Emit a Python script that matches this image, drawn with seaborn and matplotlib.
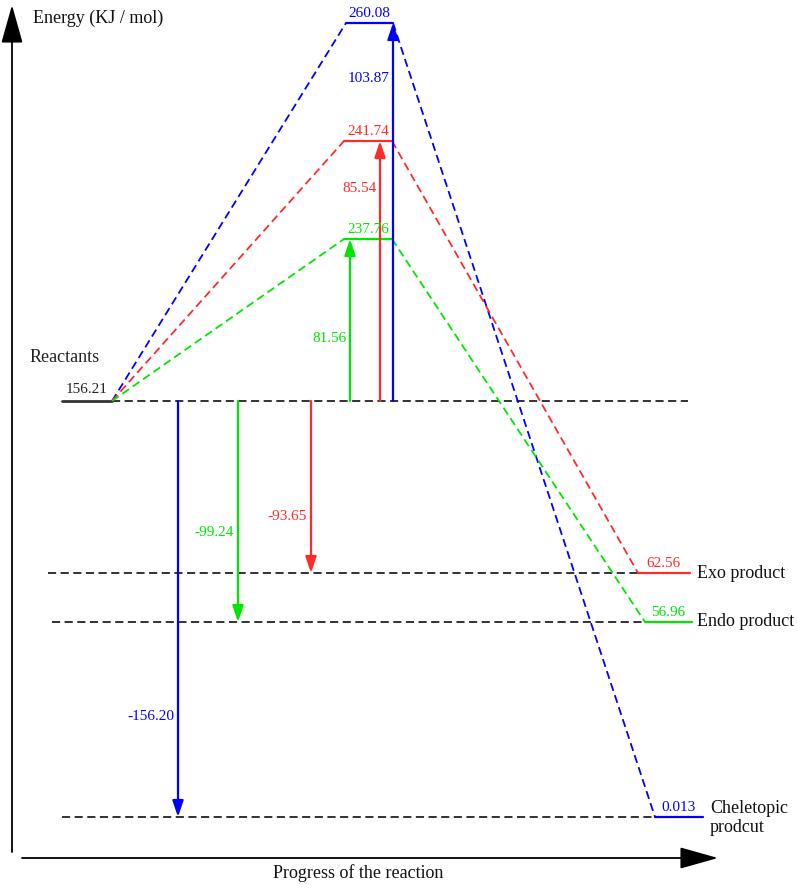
import matplotlib.pyplot as plt
import seaborn as sns
import pandas as pd

# energy levels (KJ / mol) as printed on the diagram
states = ['Reactants', 'TS cheletopic', 'TS exo', 'TS endo',
          'Exo product', 'Endo product', 'Cheletopic product']
energy = ['156.21', '260.08', '241.74', '237.76', '62.56', '56.96', '0.013']
# the diagram is schematic, not to scale: drawn height of each level
level_h = [488, 866, 748, 650, 316, 267, 72]

# three pathways: cheletopic (blue), exo (red), endo (green)
paths = ['cheletopic', 'exo', 'endo']
ts_idx = [1, 2, 3]
prod_idx = [6, 4, 5]
barrier = ['103.87', '85.54', '81.56']
reaction = ['-156.20', '-93.65', '-99.24']
prod_names = ['Cheletopic\nprodcut', 'Exo product', 'Endo product']

# layout along the reaction coordinate
react_x = (62, 112)
ts_x = [(346, 393), (344, 392), (344, 392)]
prod_x = [(655, 703), (638, 690), (645, 692)]
ref_start = [62, 48, 52]
ref_end = 688
up_x = [393, 380, 350]
down_x = [178, 311, 238]
barrier_lab_h = [811, 700, 551]
reaction_lab_h = [173, 373, 357]
name_x = [710, 697, 697]
name_dy = [-1, 0, 0]
colors = ['#0000ff', '#ff2a2a', '#00e600']

sns.set_theme(style='white')
plt.rcParams['font.family'] = ['Liberation Serif', 'DejaVu Serif']

fig = plt.figure(figsize=(7.97, 8.89), dpi=100)
ax = fig.add_axes([0, 0, 1, 1])
ax.set_xlim(0, 797)
ax.set_ylim(0, 889)
ax.axis('off')

dash = (0, (4.5, 2.5))
num_fs = 11
lab_fs = 13
r_h = level_h[0]

# reactant level and its dashed reference line
sns.lineplot(x=list(react_x), y=[r_h, r_h], color='#333333', lw=2, ax=ax)
sns.lineplot(x=[react_x[1], ref_end], y=[r_h, r_h], color='#222222', lw=1.3,
             linestyle=dash, ax=ax)
ax.text(sum(react_x) / 2, r_h + 5, energy[0], ha='center', va='bottom',
        fontsize=num_fs, color='#222222')
ax.text(30, 531, 'Reactants', ha='left', va='center', fontsize=lab_fs, color='#222222')

for i, p in enumerate(paths):
    c = colors[i]
    th = level_h[ts_idx[i]]
    ph = level_h[prod_idx[i]]
    tx0, tx1 = ts_x[i]
    px0, px1 = prod_x[i]
    # product reference line
    sns.lineplot(x=[ref_start[i], px0], y=[ph, ph], color='#222222', lw=1.3,
                 linestyle=dash, ax=ax)
    # dashed connectors
    df = pd.DataFrame({'x': [react_x[1], tx0], 'y': [r_h, th]})
    sns.lineplot(data=df, x='x', y='y', color=c, lw=1.3, linestyle=dash, ax=ax,
                 sort=False, estimator=None)
    df = pd.DataFrame({'x': [tx1, px0], 'y': [th, ph]})
    sns.lineplot(data=df, x='x', y='y', color=c, lw=1.3, linestyle=dash, ax=ax,
                 sort=False, estimator=None)
    # TS and product levels
    sns.lineplot(x=[tx0, tx1], y=[th, th], color=c, lw=1.6, ax=ax)
    sns.lineplot(x=[px0, px1], y=[ph, ph], color=c, lw=1.6, ax=ax)
    ax.text((tx0 + tx1) / 2, th + 3, energy[ts_idx[i]], ha='center', va='bottom',
            fontsize=num_fs, color=c)
    ax.text((px0 + px1) / 2, ph + 3, energy[prod_idx[i]], ha='center', va='bottom',
            fontsize=num_fs, color=c)
    ax.text(name_x[i], ph + name_dy[i], prod_names[i], ha='left', va='center',
            fontsize=lab_fs, color='#111111', linespacing=1.15)
    # barrier arrow (up) and reaction energy arrow (down)
    arrow = dict(arrowstyle='-|>,head_length=0.65,head_width=0.22', color=c,
                 lw=1.6, shrinkA=0, shrinkB=0, mutation_scale=15)
    ax.annotate('', xy=(up_x[i], th), xytext=(up_x[i], r_h), arrowprops=arrow)
    ax.text(up_x[i] - 3, barrier_lab_h[i], barrier[i], ha='right', va='center',
            fontsize=num_fs, color=c)
    ax.annotate('', xy=(down_x[i], ph), xytext=(down_x[i], r_h), arrowprops=arrow)
    ax.text(down_x[i] - 4, reaction_lab_h[i], reaction[i], ha='right', va='center',
            fontsize=num_fs, color=c)

# axes arrows
axis_arrow = dict(arrowstyle='-|>,head_length=1.6,head_width=0.45', color='black',
                  lw=1.3, shrinkA=0, shrinkB=0, mutation_scale=15)
ax.annotate('', xy=(12, 884), xytext=(12, 37), arrowprops=axis_arrow)
ax.annotate('', xy=(718, 31), xytext=(22, 31), arrowprops=axis_arrow)
ax.text(33, 871, 'Energy (KJ / mol)', ha='left', va='center', fontsize=lab_fs,
        color='#111111')
ax.text(358, 16, 'Progress of the reaction', ha='center', va='center', fontsize=lab_fs,
        color='#111111')

fig.savefig('out.png', dpi=100)
